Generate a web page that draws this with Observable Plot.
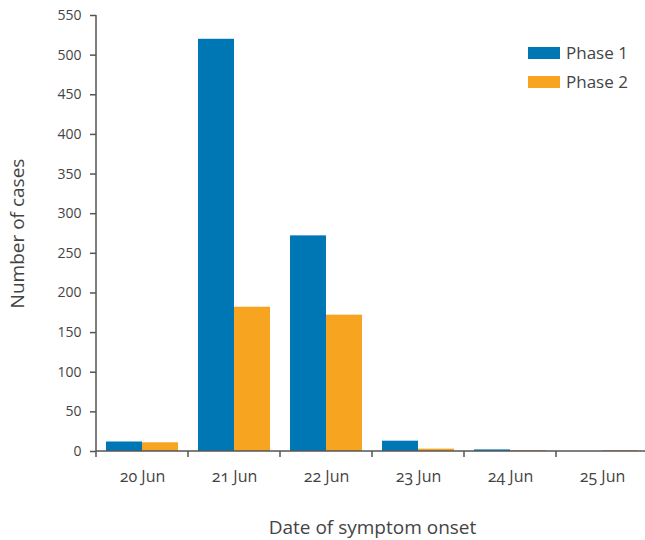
<!DOCTYPE html>
<html>
<head>
<meta charset="utf-8">
<script src="https://cdn.jsdelivr.net/npm/d3@7"></script>
<script src="https://cdn.jsdelivr.net/npm/@observablehq/plot@0.6"></script>
<style>
  html, body { margin: 0; padding: 0; background: #fff; overflow: hidden; }
  #wrap { position: relative; width: 645px; height: 540px; font-family: "Open Sans", sans-serif; }
  #wrap svg { font-variant-numeric: oldstyle-nums; }
  #wrap svg g[aria-label$="axis label"] { font-size: 19px; }
  #wrap svg g[aria-label="fx-axis tick label"] { font-size: 16px; }
  .legend { position: absolute; left: 528px; top: 38px; font-size: 17px; color: #444; }
  .legend .row { display: flex; align-items: center; height: 29px; }
  .legend .sw { width: 32px; height: 12px; margin-right: 6px; }
</style>
</head>
<body>
<div id="wrap"></div>
<script>
const dates = ["20 Jun", "21 Jun", "22 Jun", "23 Jun", "24 Jun", "25 Jun"];
const phases = ["Phase 1", "Phase 2"];
const phase1 = [12, 520, 272, 13, 2, 0];
const phase2 = [11, 182, 172, 3, 1, 1];
const colors = ["#0077B5", "#F7A520"];
const yTicks = [0, 50, 100, 150, 200, 250, 300, 350, 400, 450, 500, 550];

const data = dates.flatMap((d, i) => [
  {date: d, phase: phases[0], value: phase1[i]},
  {date: d, phase: phases[1], value: phase2[i]}
]);

const axisLines = Plot.frame({
  facet: "super",
  render(index, scales, values, dims) {
    const {fx, y} = scales;
    const g = d3.create("svg:g").attr("stroke", "#555").attr("stroke-width", 1.5).attr("fill", "none");
    const left = fx(dates[0]);
    const right = fx(dates[dates.length - 1]) + fx.bandwidth();
    const y0 = y(0), yTop = y(yTicks[yTicks.length - 1]);
    g.append("line").attr("x1", left).attr("x2", left).attr("y1", yTop).attr("y2", y0 + 6);
    g.append("line").attr("x1", left).attr("x2", right).attr("y1", y0).attr("y2", y0);
    dates.forEach(d => {
      const xr = fx(d) + fx.bandwidth();
      g.append("line").attr("x1", xr).attr("x2", xr).attr("y1", y0).attr("y2", y0 + 6);
    });
    return g.node();
  }
});

const chart = Plot.plot({
  width: 645,
  height: 540,
  marginTop: 15,
  marginBottom: 89,
  marginLeft: 94,
  marginRight: -4,
  style: {fontFamily: "'Open Sans', sans-serif", fontSize: "14px", color: "#444", background: "#fff"},
  fx: {domain: dates, padding: 0},
  x: {domain: phases, paddingInner: 0, paddingOuter: 0.25, axis: null},
  y: {domain: [0, 550]},
  color: {domain: phases, range: colors},
  marks: [
    Plot.barY(data, {fx: "date", x: "phase", y: "value", fill: "phase"}),
    Plot.axisY({
      ticks: yTicks, tickSize: 6, tickPadding: 9, stroke: "#555", strokeWidth: 1.5,
      label: "Number of cases", labelAnchor: "center", labelOffset: 86, labelArrow: "none"
    }),
    Plot.axisFx({
      anchor: "bottom", tickSize: 0, tickPadding: 19,
      label: "Date of symptom onset", labelAnchor: "center", labelOffset: 82, labelArrow: "none"
    }),
    axisLines
  ]
});

const wrap = document.getElementById("wrap");
wrap.appendChild(chart);

const legend = document.createElement("div");
legend.className = "legend";
phases.forEach((p, i) => {
  const row = document.createElement("div");
  row.className = "row";
  const sw = document.createElement("div");
  sw.className = "sw";
  sw.style.background = colors[i];
  const t = document.createElement("span");
  t.textContent = p;
  row.appendChild(sw);
  row.appendChild(t);
  legend.appendChild(row);
});
wrap.appendChild(legend);
</script>
</body>
</html>
